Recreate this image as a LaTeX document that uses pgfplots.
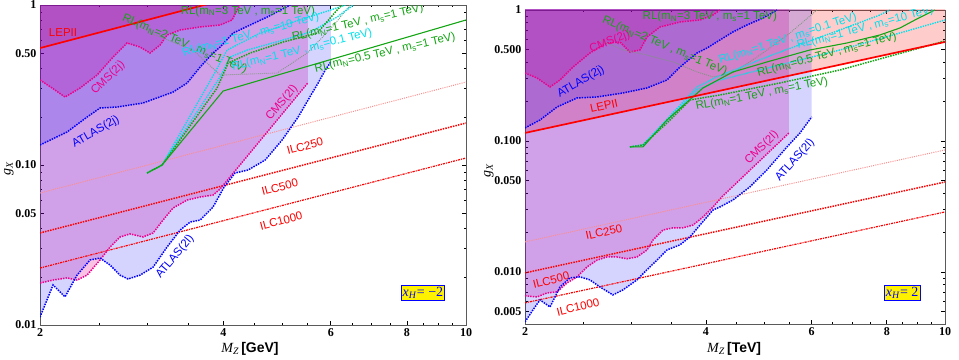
\documentclass[border=0pt]{standalone}
\usepackage{fontspec}
\setmainfont{Liberation Serif}
\setsansfont{Liberation Sans}
\usepackage{pgfplots}
\pgfplotsset{compat=1.18}
\definecolor{rlgreen}{RGB}{20,165,20}
\definecolor{rlcyan}{RGB}{0,225,235}
\definecolor{rlgray}{RGB}{125,150,125}
\definecolor{ilcpink}{RGB}{255,140,140}
\definecolor{framegray}{RGB}{90,90,90}
\newcommand{\mN}{m\textsubscript{N}}
\newcommand{\ms}{m\textsubscript{s}}
\tikzset{
 lab/.style={font=\sffamily\fontsize{11.5}{12}\selectfont, inner sep=0pt, anchor=center},
 xbox/.style={draw=blue, fill=yellow, text=blue, line width=0.8pt, inner sep=1.5pt, font=\fontsize{14}{14}\selectfont},
 cmsf/.style={draw=none, fill=magenta, fill opacity=0.24},
 atlf/.style={draw=none, fill=blue, fill opacity=0.17},
 lepf/.style={draw=none, fill=red, fill opacity=0.2},
 cmsl/.style={magenta, line width=1.5pt, dash pattern=on 1.5pt off 1.1pt},
 atll/.style={blue, line width=1.5pt, dash pattern=on 1.5pt off 1.1pt},
 ilcA/.style={ilcpink, line width=1.0pt, dash pattern=on 1pt off 1.2pt},
 ilcB/.style={red, line width=1.5pt, dash pattern=on 1.5pt off 1.1pt},
 ilcC/.style={red, line width=1.2pt, dash pattern=on 2.2pt off 1pt on 1pt off 1pt},
 lep/.style={red, line width=1.7pt},
 rlsolid/.style={rlgreen, line width=1.1pt},
 rldot/.style={rlgreen, line width=1.5pt, dash pattern=on 1.5pt off 1.1pt},
 rlcy/.style={rlcyan, line width=1.4pt, dash pattern=on 1.4pt off 1.1pt},
 rlgr/.style={rlgray, line width=0.9pt, dash pattern=on 0.9pt off 1.1pt},
}
\begin{document}
\begin{tikzpicture}
\useasboundingbox (0,0) rectangle (959pt,359pt);
% ---------------- LEFT PANEL ----------------
\begin{axis}[xmode=log, ymode=log, scale only axis, xmin=2, xmax=10,
  xtick={2,4,6,8,10}, xticklabels={2,4,6,8,10},
  minor xtick={2.5,3,3.5,4.5,5,5.5,6.5,7,7.5,8.5,9,9.5},
  tick align=inside, tick pos=both,
  major tick length=4pt, minor tick length=2.5pt,
  axis line style={framegray, line width=0.8pt},
  tick style={black, line width=0.6pt},
  tick label style={font=\bfseries\fontsize{12}{12}\selectfont},
  at={(40pt,34pt)}, anchor=south west, width=426pt, height=320pt,
  ymin=0.01, ymax=1,
  ytick={0.01,0.05,0.1,0.5,1}, yticklabels={0.01,0.05,0.10,0.50,1},
  minor ytick={0.02,0.03,0.04,0.06,0.07,0.08,0.09,0.2,0.3,0.4,0.6,0.7,0.8,0.9},
  xlabel={\textit{M\textsubscript{Z}}\,\textsf{\bfseries [GeV]}},
  ylabel={\textit{g}\textsubscript{\textit{X}}},
  xlabel style={font=\fontsize{14}{14}\selectfont, inner sep=0pt, at={(axis description cs:0.493,-0.075)}, anchor=center},
  ylabel style={font=\fontsize{14}{14}\selectfont, inner sep=0pt, at={(axis description cs:-0.073,0.49)}, anchor=center},
]
% fills
\addplot[lepf, forget plot] coordinates {(2,0.538) (10,2.69) (10,3) (2,3)} --cycle;
\addplot[cmsf, forget plot] coordinates {(2.000,0.0183) (2.101,0.0191) (2.215,0.0197) (2.300,0.0191) (2.389,0.0205) (2.509,0.0255) (2.606,0.0307) (2.706,0.0355) (2.810,0.0371) (2.952,0.0355) (3.066,0.0376) (3.184,0.0453) (3.307,0.0539) (3.487,0.0604) (3.663,0.0631) (3.846,0.0649) (3.950,0.0708) (5.50,0.3255) (5.50,1.05) (2,1.05)} --cycle;
\addplot[atlf, forget plot] coordinates {(2.000,0.0112) (2.101,0.0178) (2.198,0.0150) (2.300,0.0205) (2.416,0.0255) (2.509,0.0262) (2.606,0.0237) (2.706,0.0205) (2.789,0.0194) (2.919,0.0205) (3.066,0.0230) (3.232,0.0307) (3.396,0.0392) (3.527,0.0440) (3.663,0.0453) (3.846,0.0546) (4.010,0.0729) (4.179,0.0891) (4.391,0.0931) (4.683,0.1075) (4.992,0.1433) (5.304,0.1995) (5.593,0.282) (5.721,0.3255) (5.876,0.392) (6.0,0.440) (6.0,1.05) (2,1.05)} --cycle;
\addplot[cmsf, forget plot] coordinates {(2.000,0.340) (2.093,0.303) (2.198,0.266) (2.327,0.303) (2.481,0.365) (2.636,0.473) (2.779,0.579) (2.919,0.546) (3.031,0.501) (3.148,0.562) (3.232,0.649) (3.396,0.698) (3.663,0.729) (3.950,0.750) (4.132,0.806) (4.211,0.931) (4.259,1.05) (2,1.05)} --cycle;
\addplot[atlf, forget plot] coordinates {(2.000,0.1334) (2.215,0.1608) (2.389,0.1995) (2.509,0.2271) (2.676,0.2304) (2.952,0.2440) (3.307,0.2858) (3.487,0.3255) (3.663,0.4098) (3.846,0.501) (3.950,0.546) (4.149,0.668) (4.424,0.750) (4.718,0.841) (5.147,1.05) (2,1.05)} --cycle;
% ILC
\addplot[ilcA] coordinates {(2,0.0668) (10,0.330)};
\addplot[ilcB] coordinates {(2,0.0376) (10,0.183)};
\addplot[ilcC] coordinates {(2,0.0227) (10,0.1106)};
% exclusion boundaries
\addplot[cmsl] coordinates {(2.000,0.0183) (2.101,0.0191) (2.215,0.0197) (2.300,0.0191) (2.389,0.0205) (2.509,0.0255) (2.606,0.0307) (2.706,0.0355) (2.810,0.0371) (2.952,0.0355) (3.066,0.0376) (3.184,0.0453) (3.307,0.0539) (3.487,0.0604) (3.663,0.0631) (3.846,0.0649) (3.950,0.0708) (5.50,0.3255)};
\addplot[atll] coordinates {(2.000,0.0112) (2.101,0.0178) (2.198,0.0150) (2.300,0.0205) (2.416,0.0255) (2.509,0.0262) (2.606,0.0237) (2.706,0.0205) (2.789,0.0194) (2.919,0.0205) (3.066,0.0230) (3.232,0.0307) (3.396,0.0392) (3.527,0.0440) (3.663,0.0453) (3.846,0.0546) (4.010,0.0729) (4.179,0.0891) (4.391,0.0931) (4.683,0.1075) (4.992,0.1433) (5.304,0.1995) (5.593,0.282) (5.721,0.3255) (5.876,0.392) (6.0,0.440)};
\addplot[cmsl] coordinates {(2.000,0.340) (2.093,0.303) (2.198,0.266) (2.327,0.303) (2.481,0.365) (2.636,0.473) (2.779,0.579) (2.919,0.546) (3.031,0.501) (3.148,0.562) (3.232,0.649) (3.396,0.698) (3.663,0.729) (3.950,0.750) (4.132,0.806) (4.211,0.931) (4.259,1.0)};
\addplot[atll] coordinates {(2.000,0.1334) (2.215,0.1608) (2.389,0.1995) (2.509,0.2271) (2.676,0.2304) (2.952,0.2440) (3.307,0.2858) (3.487,0.3255) (3.663,0.4098) (3.846,0.501) (3.950,0.546) (4.149,0.668) (4.424,0.750) (4.718,0.841) (5.147,1.0)};
% RL lines
\addplot[rlgr] coordinates {(2.789,0.829) (3.031,0.668) (3.567,0.523) (3.950,0.365) (4.900,0.376) (5.489,0.501) (6.034,0.729) (6.457,1.0)};
\addplot[rlcy] coordinates {(2.997,0.0891) (3.172,0.100) (3.877,0.381) (4.055,0.523) (4.595,0.668) (5.206,0.783) (6.0,0.931) (6.338,1.0)};
\addplot[rlcy] coordinates {(2.997,0.0891) (3.172,0.100) (3.950,0.355) (4.102,0.473) (4.376,0.523) (5.012,0.604) (5.551,0.678) (6.147,0.841) (6.532,1.0)};
\addplot[rldot] coordinates {(2.997,0.0891) (3.172,0.100) (3.905,0.303) (4.071,0.434) (4.424,0.501) (5.012,0.587) (5.700,0.668) (6.147,0.931) (6.264,1.0)};
\addplot[rlsolid] coordinates {(2.997,0.0891) (3.172,0.100) (3.995,0.290) (10,0.806)};
\addplot[lep] coordinates {(2,0.538) (10,2.69)};
% labels
\node[lab, red] at (rel axis cs:0.054,0.9125) {LEPII};
\node[lab, magenta, rotate=45] at (rel axis cs:0.160,0.772) {CMS(2j)};
\node[lab, blue, rotate=30] at (rel axis cs:0.131,0.603) {ATLAS(2j)};
\node[lab, magenta, rotate=50] at (rel axis cs:0.568,0.694) {CMS(2l)};
\node[lab, blue, rotate=50] at (rel axis cs:0.317,0.2125) {ATLAS(2l)};
\node[lab, red, rotate=14.6] at (rel axis cs:0.622,0.559) {ILC250};
\node[lab, red, rotate=14.6] at (rel axis cs:0.563,0.431) {ILC500};
\node[lab, red, rotate=14.6] at (rel axis cs:0.566,0.325) {ILC1000};
\node[lab, rlgreen] at (rel axis cs:0.488,0.981) {RL(\mN=3 TeV , \ms=1 TeV)};
\node[lab, rlgreen, rotate=-23] at (rel axis cs:0.340,0.878) {RL(\mN=2 TeV , \ms=1 TeV)};
\node[lab, rlcyan, rotate=15] at (rel axis cs:0.495,0.906) {RL(\mN=1 TeV , \ms=10 TeV)};
\node[lab, rlcyan, rotate=14] at (rel axis cs:0.615,0.859) {RL(\mN=1 TeV , \ms=0.1 TeV)};
\node[lab, rlgreen, rotate=13] at (rel axis cs:0.746,0.944) {RL(\mN=1 TeV , \ms=1 TeV)};
\node[lab, rlgreen, rotate=13] at (rel axis cs:0.810,0.85) {RL(\mN=0.5 TeV , \ms=1 TeV)};
\node[xbox] at (rel axis cs:0.899,0.1) {\textit{x}\textsubscript{\textit{H}}= −2};
\end{axis}
% ---------------- RIGHT PANEL ----------------
\begin{axis}[xmode=log, ymode=log, scale only axis, xmin=2, xmax=10,
  xtick={2,4,6,8,10}, xticklabels={2,4,6,8,10},
  minor xtick={2.5,3,3.5,4.5,5,5.5,6.5,7,7.5,8.5,9,9.5},
  tick align=inside, tick pos=both,
  major tick length=4pt, minor tick length=2.5pt,
  axis line style={framegray, line width=0.8pt},
  tick style={black, line width=0.6pt},
  tick label style={font=\bfseries\fontsize{12}{12}\selectfont},
  at={(525pt,35pt)}, anchor=south west, width=420pt, height=314pt,
  ymin=0.004, ymax=1,
  ytick={0.005,0.01,0.05,0.1,0.5,1}, yticklabels={0.005,0.010,0.050,0.100,0.500,1},
  minor ytick={0.004,0.006,0.007,0.008,0.009,0.02,0.03,0.04,0.06,0.07,0.08,0.09,0.2,0.3,0.4,0.6,0.7,0.8,0.9},
  xlabel={\textit{M\textsubscript{Z}}\,\textsf{\bfseries [TeV]}},
  ylabel={\textit{g}\textsubscript{\textit{X}}},
  xlabel style={font=\fontsize{14}{14}\selectfont, inner sep=0pt, at={(axis description cs:0.498,-0.08)}, anchor=center},
  ylabel style={font=\fontsize{14}{14}\selectfont, inner sep=0pt, at={(axis description cs:-0.086,0.49)}, anchor=center},
]
\addplot[lepf, forget plot] coordinates {(2,0.1151) (10,0.570) (10,1.1) (2,1.1)} --cycle;
\addplot[cmsf, forget plot] coordinates {(2.000,0.00656) (2.094,0.00644) (2.176,0.00691) (2.261,0.00704) (2.349,0.00824) (2.441,0.00916) (2.536,0.0109) (2.635,0.0123) (2.738,0.0130) (2.845,0.0130) (2.956,0.0126) (3.072,0.0130) (3.192,0.0147) (3.266,0.0175) (3.394,0.0209) (3.527,0.0217) (3.665,0.0217) (3.808,0.0228) (3.957,0.0263) (4.111,0.0313) (4.253,0.0374) (5.50,0.1151) (5.50,1.05) (2,1.05)} --cycle;
\addplot[atlf, forget plot] coordinates {(2.000,0.00415) (2.062,0.00513) (2.118,0.00611) (2.201,0.00540) (2.287,0.00768) (2.376,0.00900) (2.469,0.00916) (2.565,0.00869) (2.665,0.00768) (2.801,0.00667) (2.911,0.00729) (3.072,0.00869) (3.192,0.0104) (3.317,0.0123) (3.446,0.0147) (3.623,0.0161) (3.764,0.0185) (3.911,0.0228) (4.111,0.0297) (4.221,0.0313) (4.436,0.0354) (4.735,0.0446) (5.054,0.0601) (5.458,0.0900) (5.737,0.1151) (6.0,0.1525) (6.0,1.05) (2,1.05)} --cycle;
\addplot[cmsf, forget plot] coordinates {(2.000,0.3304) (2.094,0.3027) (2.201,0.2584) (2.287,0.2922) (2.404,0.3672) (2.565,0.4696) (2.738,0.5599) (2.878,0.5699) (2.990,0.4778) (3.107,0.4950) (3.192,0.6221) (3.355,0.7419) (3.623,0.8099) (3.911,0.8389) (4.111,0.9158) (4.221,1.05) (2,1.05)} --cycle;
\addplot[atlf, forget plot] coordinates {(2.000,0.1257) (2.118,0.1446) (2.261,0.1817) (2.441,0.2129) (2.635,0.2167) (2.911,0.2324) (3.192,0.2539) (3.446,0.2922) (3.623,0.3672) (3.867,0.4696) (4.018,0.5128) (4.221,0.5902) (4.436,0.6795) (4.681,0.7683) (4.978,0.8687) (5.252,1.05) (2,1.05)} --cycle;
\addplot[ilcA] coordinates {(2,0.01694) (10,0.0854)};
\addplot[ilcB] coordinates {(2,0.00983) (10,0.0486)};
\addplot[ilcC] coordinates {(2,0.0058) (10,0.0287)};
\addplot[cmsl] coordinates {(2.000,0.00656) (2.094,0.00644) (2.176,0.00691) (2.261,0.00704) (2.349,0.00824) (2.441,0.00916) (2.536,0.0109) (2.635,0.0123) (2.738,0.0130) (2.845,0.0130) (2.956,0.0126) (3.072,0.0130) (3.192,0.0147) (3.266,0.0175) (3.394,0.0209) (3.527,0.0217) (3.665,0.0217) (3.808,0.0228) (3.957,0.0263) (4.111,0.0313) (4.253,0.0374) (5.50,0.1151)};
\addplot[atll] coordinates {(2.000,0.00415) (2.062,0.00513) (2.118,0.00611) (2.201,0.00540) (2.287,0.00768) (2.376,0.00900) (2.469,0.00916) (2.565,0.00869) (2.665,0.00768) (2.801,0.00667) (2.911,0.00729) (3.072,0.00869) (3.192,0.0104) (3.317,0.0123) (3.446,0.0147) (3.623,0.0161) (3.764,0.0185) (3.911,0.0228) (4.111,0.0297) (4.221,0.0313) (4.436,0.0354) (4.735,0.0446) (5.054,0.0601) (5.458,0.0900) (5.737,0.1151) (6.0,0.1525)};
\addplot[cmsl] coordinates {(2.000,0.3304) (2.094,0.3027) (2.201,0.2584) (2.287,0.2922) (2.404,0.3672) (2.565,0.4696) (2.738,0.5599) (2.878,0.5699) (2.990,0.4778) (3.107,0.4950) (3.192,0.6221) (3.355,0.7419) (3.623,0.8099) (3.911,0.8389) (4.111,0.9158) (4.221,1.0)};
\addplot[atll] coordinates {(2.000,0.1257) (2.118,0.1446) (2.261,0.1817) (2.441,0.2129) (2.635,0.2167) (2.911,0.2324) (3.192,0.2539) (3.446,0.2922) (3.623,0.3672) (3.867,0.4696) (4.018,0.5128) (4.221,0.5902) (4.436,0.6795) (4.681,0.7683) (4.978,0.8687) (5.252,1.0)};
\addplot[rlgr] coordinates {(2.665,0.5902) (2.911,0.4950) (3.192,0.4534) (3.527,0.4010) (3.867,0.3363) (4.111,0.3080) (4.436,0.3304) (4.978,0.4696) (5.521,0.6675) (6.124,1.0)};
\addplot[rlcy] coordinates {(2.990,0.0900) (3.143,0.0932) (3.867,0.2584) (4.173,0.3080) (5.054,0.4377) (5.893,0.5699) (6.686,0.7038) (7.792,0.9158) (8.096,1.0)};
\addplot[rlcy] coordinates {(2.990,0.0900) (3.143,0.0932) (3.867,0.2450) (4.221,0.2922) (5.313,0.3804) (6.686,0.4950) (8.415,0.6675) (10,0.8389)};
\addplot[rldot] coordinates {(2.990,0.0900) (3.143,0.0932) (3.446,0.1372) (3.764,0.2056) (4.221,0.2244) (5.313,0.2772) (6.686,0.3483) (10,0.5800)};
\addplot[rlsolid] coordinates {(2.990,0.0900) (3.143,0.0900) (3.446,0.1446) (3.957,0.2539) (4.436,0.3363) (5.054,0.4010) (5.960,0.4950) (6.868,0.5599) (7.792,0.6445) (8.415,0.7290) (8.913,0.8389) (9.621,1.0)};
\addplot[lep] coordinates {(2,0.1151) (10,0.570)};
\node[lab, red, rotate=12.2] at (rel axis cs:0.188,0.694) {LEPII};
\node[lab, magenta, rotate=20] at (rel axis cs:0.202,0.898) {CMS(2j)};
\node[lab, blue, rotate=30] at (rel axis cs:0.133,0.771) {ATLAS(2j)};
\node[lab, magenta, rotate=45] at (rel axis cs:0.564,0.561) {CMS(2l)};
\node[lab, blue, rotate=48] at (rel axis cs:0.643,0.522) {ATLAS(2l)};
\node[lab, red, rotate=12.4] at (rel axis cs:0.188,0.293) {ILC250};
\node[lab, red, rotate=14] at (rel axis cs:0.062,0.140) {ILC500};
\node[lab, red, rotate=14] at (rel axis cs:0.126,0.054) {ILC1000};
\node[lab, rlgreen] at (rel axis cs:0.44,0.978) {RL(\mN=3 TeV , \ms=1 TeV)};
\node[lab, rlgreen, rotate=-23] at (rel axis cs:0.333,0.885) {RL(\mN=2 TeV , \ms=1 TeV)};
\node[lab, rlcyan, rotate=18] at (rel axis cs:0.626,0.908) {RL(\mN=1 TeV , \ms=0.1 TeV)};
\node[lab, rlcyan, rotate=15] at (rel axis cs:0.81,0.943) {RL(\mN=1 TeV , \ms=10 TeV)};
\node[lab, rlgreen, rotate=15] at (rel axis cs:0.719,0.857) {RL(\mN=0.5 TeV , \ms=1 TeV)};
\node[lab, rlgreen, rotate=11] at (rel axis cs:0.564,0.732) {RL(\mN=1 TeV , \ms=1 TeV)};
\node[xbox] at (rel axis cs:0.898,0.099) {\textit{x}\textsubscript{\textit{H}}= 2};
\end{axis}
\end{tikzpicture}
\end{document}
